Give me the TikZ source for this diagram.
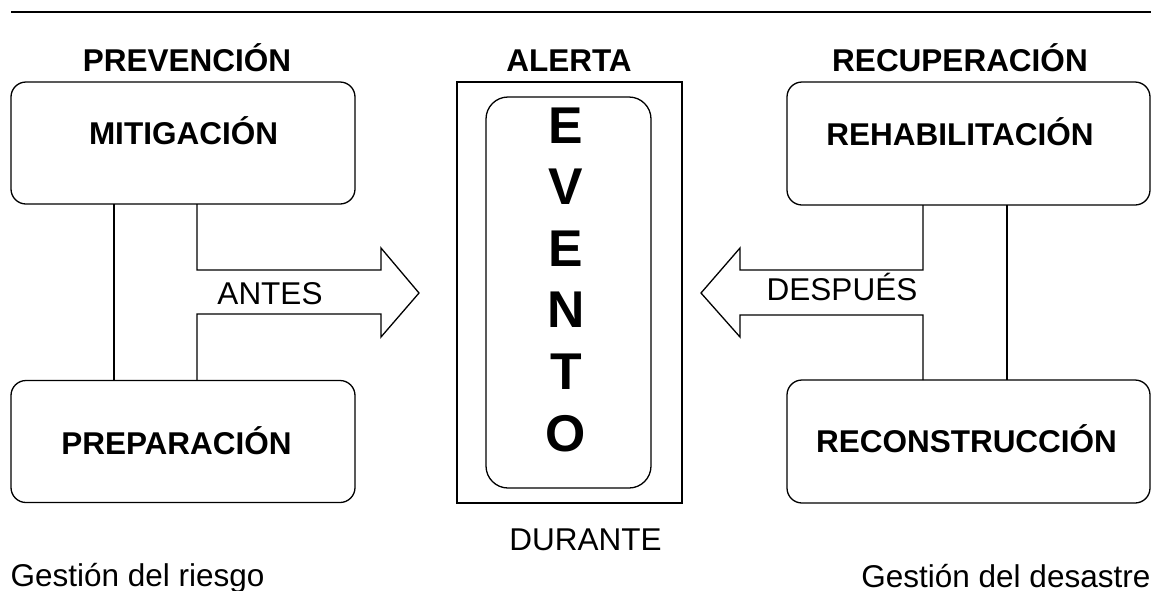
\documentclass[tikz,border=0pt]{standalone}
\usepackage{fontspec}
\setmainfont{Liberation Sans}
\begin{document}
\begin{tikzpicture}[x=1pt,y=-1pt,line width=1.3pt,
  box/.style={draw,rounded corners=15pt,minimum width=344pt,minimum height=122pt,inner sep=0pt,outer sep=0pt},
  rbox/.style={draw,rounded corners=15pt,minimum width=363pt,minimum height=123pt,inner sep=0pt,outer sep=0pt},
  head/.style={font=\fontsize{31.5}{36}\selectfont\bfseries,anchor=base,inner sep=0pt},
  plain/.style={font=\fontsize{31.5}{36}\selectfont,anchor=base,inner sep=0pt},
  letter/.style={font=\fontsize{51.7}{60}\selectfont\bfseries,anchor=base,inner sep=0pt}]
\useasboundingbox (0,0) rectangle (1151,590);
% top rule
\coordinate (rl) at (11,12);
\coordinate (rr) at (1151,12);
\draw (rl) -- (rr);
% headings
\node[head] (hprev) at (187,71) {PREVENCIÓN};
\node[head] (halert) at (569,71) {ALERTA};
\node[head] (hrecu) at (960,71) {RECUPERACIÓN};
% boxes
\node[box] (mit) at (183,143) {};
\node[box] (prep) at (183,441.5) {};
\node[rbox] (rehab) at (968.5,143.5) {};
\node[rbox] (recon) at (968.5,441.5) {};
\node[head] (tmit) at (183.5,144) {MITIGACIÓN};
\node[head] (tprep) at (176.5,454) {PREPARACIÓN};
\node[head] (trehab) at (960,145) {REHABILITACIÓN};
\node[head] (trecon) at (966.5,452) {RECONSTRUCCIÓN};
% centre
\node[draw,minimum width=225pt,minimum height=421pt,inner sep=0pt,outer sep=0pt] (outer) at (569.5,292.5) {};
\node[draw,rounded corners=22pt,minimum width=165pt,minimum height=391pt,inner sep=0pt,outer sep=0pt] (inner) at (568.5,292.5) {};
\node[letter] (l1) at (566,143) {E};
\node[letter] (l2) at (566,204.6) {V};
\node[letter] (l3) at (566,266.2) {E};
\node[letter] (l4) at (566,327.8) {N};
\node[letter] (l5) at (566,389.4) {T};
\node[letter] (l6) at (566,451) {O};
% left connectors
\coordinate (la) at (114,0);
\coordinate (lb) at (197,0);
\coordinate (ltip) at (419,293);
\draw (mit.south -| la) -- (prep.north -| la);
\draw (mit.south -| lb) -- (197,270) -- (381,270) -- (381,248) -- (ltip)
  -- (381,337) -- (381,314) -- (197,314) -- (prep.north -| lb);
% right connectors
\coordinate (ra) at (1007,0);
\coordinate (rb) at (923,0);
\coordinate (rtip) at (701,293);
\draw (rehab.south -| ra) -- (recon.north -| ra);
\draw (rehab.south -| rb) -- (923,270) -- (740,270) -- (740,248) -- (rtip)
  -- (740,337) -- (740,315) -- (923,315) -- (recon.north -| rb);
% labels
\node[plain] (antes) at (270,304) {ANTES};
\node[plain] (despues) at (842,300) {DESPUÉS};
\node[plain] (durante) at (585.5,550) {DURANTE};
\node[plain,anchor=base west] (griesgo) at (10,586) {Gestión del riesgo};
\node[plain,anchor=base east] (gdes) at (1151,587) {Gestión del desastre};
\end{tikzpicture}
\end{document}
